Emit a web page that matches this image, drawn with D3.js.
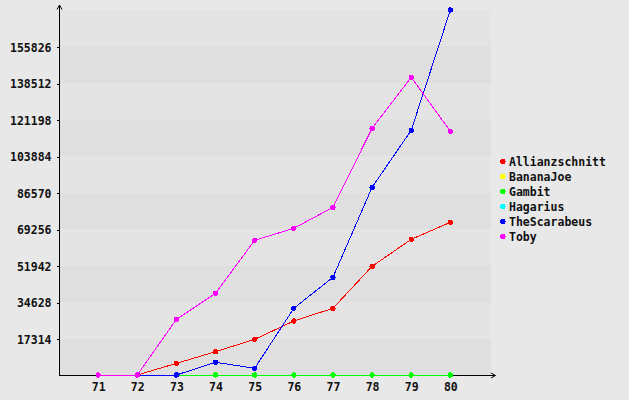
<!DOCTYPE html>
<html>
<head>
<meta charset="utf-8">
<script src="https://cdn.jsdelivr.net/npm/d3@7"></script>
<style>
  html, body { margin: 0; padding: 0; background: #e8e8e8; }
  svg { display: block; }
  text { font-family: "DejaVu Sans Mono", monospace; font-weight: bold; font-size: 11.5px; fill: #111; }
</style>
</head>
<body>
<svg id="chart" width="629" height="400"></svg>
<script>
const categories = [71, 72, 73, 74, 75, 76, 77, 78, 79, 80];
const seriesNames = ["Allianzschnitt", "BananaJoe", "Gambit", "Hagarius", "TheScarabeus", "Toby"];
const seriesColors = ["#ff0000", "#ffff00", "#00ff00", "#00ffff", "#0000ff", "#ff00ff"];
const allianzschnitt = [null, 0, 5530, 11070, 16920, 25620, 31640, 51550, 64370, 72430];
const bananaJoe = [null, null, null, null, null, null, null, null, null, null];
const gambit = [null, null, 0, 0, 0, 0, 0, 0, 0, 0];
const hagarius = [null, null, null, null, null, null, null, null, null, null];
const theScarabeus = [null, 0, 0, 6020, 3180, 31640, 46350, 89040, 116080, 173140];
const toby = [0, 0, 26420, 38760, 63900, 69590, 79560, 117030, 141220, 115600];
const yTicks = [17314, 34628, 51942, 69256, 86570, 103884, 121198, 138512, 155826];
const yMax = 173140;

const seriesValues = [allianzschnitt, bananaJoe, gambit, hagarius, theScarabeus, toby];

const svg = d3.select("#chart");
const x = d3.scaleLinear().domain([70, 81]).range([59, 489.5]);
const y = d3.scaleLinear().domain([0, yMax]).range([375, 10]);

// background bands
const bandEdges = [0].concat(yTicks).concat([yMax]);
const bands = d3.range(bandEdges.length - 1).map(i => ({ i, lo: bandEdges[i], hi: bandEdges[i + 1] }));
svg.append("g").selectAll("rect").data(bands).join("rect")
  .attr("x", 60).attr("width", 431)
  .attr("y", d => Math.round(y(d.hi)))
  .attr("height", d => Math.round(y(d.lo)) - Math.round(y(d.hi)))
  .attr("fill", d => d.i % 2 === 0 ? "#dfdfdf" : "#e4e4e4")
  .attr("shape-rendering", "crispEdges");

// axes
const yAxis = d3.axisLeft(y).tickValues(yTicks).tickSize(3).tickPadding(5).tickFormat(d3.format("d"));
const gy = svg.append("g").attr("transform", "translate(59.5,0)").call(yAxis);
gy.select(".domain").remove();
gy.selectAll("line").attr("stroke", "#000").attr("shape-rendering", "crispEdges").attr("transform", "translate(0,0.5)");
gy.selectAll("text").attr("dy", "0.4em").style("font-size", "11.5px");

const xAxis = d3.axisBottom(x).tickValues(categories).tickSize(0).tickPadding(7).tickFormat(d3.format("d"));
const gx = svg.append("g").attr("transform", "translate(0,375.5)").call(xAxis);
gx.select(".domain").remove();
gx.selectAll("text").attr("dy", "0.75em");

// axis lines with arrows
svg.append("line").attr("x1", 59.5).attr("x2", 59.5).attr("y1", 6).attr("y2", 375.5).attr("stroke", "#000");
svg.append("path").attr("d", "M57,9.5 L59.5,5 L62,9.5").attr("fill", "none").attr("stroke", "#000");
svg.append("line").attr("x1", 59).attr("x2", 495).attr("y1", 375.5).attr("y2", 375.5).attr("stroke", "#000");
svg.append("path").attr("d", "M491,373 L495.5,375.5 L491,378").attr("fill", "none").attr("stroke", "#000");

// series
const line = d3.line().defined(d => d.v !== null).x(d => x(d.c)).y(d => y(d.v));
const marker = d3.symbol().type(d3.symbolCircle).size(22);
seriesNames.forEach((name, si) => {
  const pts = categories.map((c, i) => ({ c, v: seriesValues[si][i] }));
  const g = svg.append("g");
  g.append("path").datum(pts).attr("d", line)
    .attr("fill", "none").attr("stroke", seriesColors[si]).attr("stroke-width", 1)
    .attr("shape-rendering", "crispEdges");
  g.selectAll("path.m").data(pts.filter(d => d.v !== null)).join("path").attr("class", "m")
    .attr("d", marker)
    .attr("transform", d => `translate(${x(d.c)},${y(d.v)})`)
    .attr("fill", seriesColors[si])
    .attr("shape-rendering", "crispEdges");
});

// legend
const lg = svg.append("g").selectAll("g").data(seriesNames).join("g")
  .attr("transform", (d, i) => `translate(503,${161.5 + i * 15})`);
lg.append("path").attr("d", marker).attr("fill", (d, i) => seriesColors[i]).attr("shape-rendering", "crispEdges");
lg.append("text").attr("x", 6).attr("dy", "0.38em").text(d => d);
</script>
</body>
</html>
